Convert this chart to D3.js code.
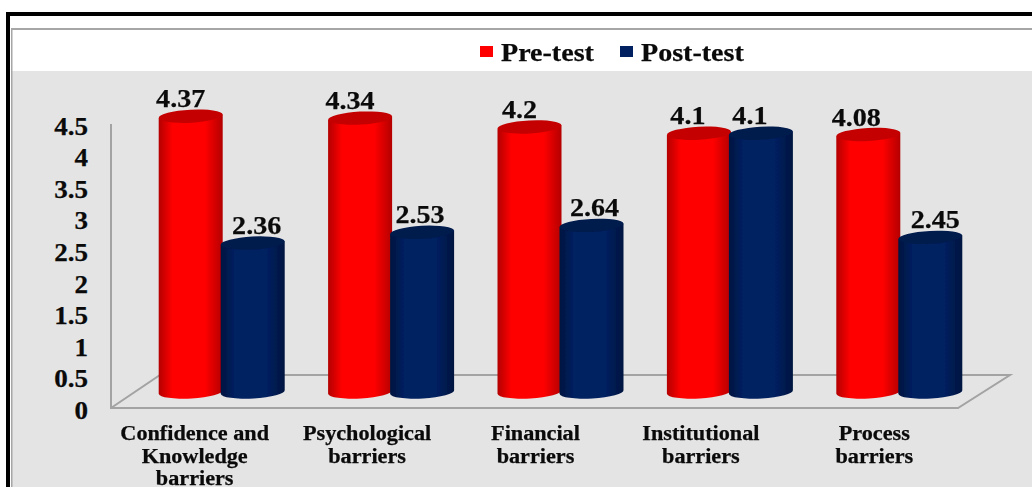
<!DOCTYPE html>
<html>
<head>
<meta charset="utf-8">
<script src="https://cdnjs.cloudflare.com/ajax/libs/d3/7.8.5/d3.min.js"></script>
<style>
    html, body { margin: 0; padding: 0; background: #fff; overflow: hidden; }
    text { font-family: "Liberation Serif", serif; font-weight: bold; fill: #0a0a0a; stroke: #0a0a0a; stroke-width: 0.25px; }
</style>
</head>
<body>
<div id="chart"></div>
<script>
const categories = [
    ['Confidence and', 'Knowledge', 'barriers'],
    ['Psychological', 'barriers'],
    ['Financial', 'barriers'],
    ['Institutional', 'barriers'],
    ['Process', 'barriers']
];
const seriesNames = ['Pre-test', 'Post-test'];
const preTest = [4.37, 4.34, 4.2, 4.1, 4.08];
const postTest = [2.36, 2.53, 2.64, 4.1, 2.45];
const yTicks = [0, 0.5, 1, 1.5, 2, 2.5, 3, 3.5, 4, 4.5];

const width = 1032, height = 487;
const colors = {
    red: {edge: '#b40000', mid: '#ff0000', top: '#c40000'},
    blue: {edge: '#001540', mid: '#002060', top: '#001a4e'}
};

// hand placed, the source chart nudges its labels around
const valueLabelDx = [[-10, 4], [-10, -2], [-10, 3], [-11, -11], [-12, 5]];
const categoryLabelDx = [-27, -24, -25, -29, -25];

// the source image is stretched sideways, so the text is too
function stretch(sel, k) {
    sel.each(function () {
        d3.select(this)
            .attr('textLength', this.getComputedTextLength() * k)
            .attr('lengthAdjust', 'spacingAndGlyphs');
    });
}

const svg = d3.select('#chart').append('svg')
    .attr('width', width)
    .attr('height', height)
    .style('display', 'block');

// frame and backgrounds
svg.append('rect').attr('x', 12).attr('y', 71).attr('width', width - 12).attr('height', height - 71).attr('fill', '#e4e4e4');
svg.append('rect').attr('x', 6).attr('y', 12).attr('width', 4).attr('height', height - 12).attr('fill', '#000');
svg.append('rect').attr('x', 6).attr('y', 12).attr('width', width - 6).attr('height', 4).attr('fill', '#000');
svg.append('rect').attr('x', 11).attr('y', 28).attr('width', width - 11).attr('height', 2).attr('fill', '#a6a6a6');
svg.append('rect').attr('x', 11).attr('y', 28).attr('width', 1.5).attr('height', height - 28).attr('fill', '#a6a6a6');

const defs = svg.append('defs');
Object.keys(colors).forEach(key => {
    const grad = defs.append('linearGradient').attr('id', `cyl-${key}`);
    grad.append('stop').attr('offset', '0%').attr('stop-color', colors[key].edge);
    grad.append('stop').attr('offset', '22%').attr('stop-color', colors[key].mid);
    grad.append('stop').attr('offset', '72%').attr('stop-color', colors[key].mid);
    grad.append('stop').attr('offset', '100%').attr('stop-color', colors[key].edge);
});
defs.append('filter').attr('id', 'soft')
    .append('feGaussianBlur').attr('stdDeviation', 0.5);

const y = d3.scaleLinear().domain([0, 4.5]).range([408, 124]);
const depth = 16; // bars stand this far behind the front edge of the floor

const x0 = d3.scaleBand().domain(d3.range(categories.length)).range([137, 984]);
const barWidth = 64;
const barCenters = {
    red: i => x0(i) + x0.bandwidth() / 2 - 31,
    blue: i => x0(i) + x0.bandwidth() / 2 + 31
};

// floor and back wall edge
const floor = svg.append('g').attr('fill', 'none').attr('stroke', '#a3a3a3').attr('stroke-width', 2);
floor.append('path').attr('d', `M111,${y(4.5)}V${y(0)}H958L1010,375H160L111,${y(0)}`);

const yAxis = d3.axisLeft(y).tickValues(yTicks).tickFormat(d => d).tickSize(0).tickPadding(0);
const axisG = svg.append('g').attr('transform', 'translate(88,2)').call(yAxis);
axisG.select('.domain').remove();
axisG.selectAll('text')
    .style('font-size', '26px')
    .style('font-family', '"Liberation Serif", serif')
    .call(stretch, 1.04);

// cylinder body + darker lid, very slightly tilted like the source
function drawCylinder(g, cx, value, key) {
    const rx = barWidth / 2, ry = 6.5, tilt = 1.8;
    const base = y(0) - depth, top = y(value) - depth;
    g.append('path')
        .attr('d', `M${cx - rx},${top + tilt}L${cx - rx},${base + tilt}` +
            `A${rx},${ry} -3 0 0 ${cx + rx},${base - tilt}L${cx + rx},${top - tilt}Z`)
        .attr('fill', `url(#cyl-${key})`);
    g.append('ellipse')
        .attr('cx', cx).attr('cy', top).attr('rx', rx).attr('ry', ry)
        .attr('transform', `rotate(-3 ${cx} ${top})`)
        .attr('fill', colors[key].top);
}

const bars = svg.append('g').attr('filter', 'url(#soft)');
categories.forEach((c, i) => {
    drawCylinder(bars, barCenters.red(i), preTest[i], 'red');
    drawCylinder(bars, barCenters.blue(i), postTest[i], 'blue');
});

// value labels
categories.forEach((c, i) => {
    [[preTest[i], barCenters.red(i)], [postTest[i], barCenters.blue(i)]].forEach(([v, cx], s) => {
        svg.append('text')
            .attr('x', cx + valueLabelDx[i][s])
            .attr('y', y(v) - depth - 9)
            .attr('text-anchor', 'middle')
            .style('font-size', '26px')
            .text(v)
            .call(stretch, 1.08);
    });
});

// category labels
categories.forEach((lines, i) => {
    lines.forEach((line, j) => {
        svg.append('text')
            .attr('text-anchor', 'middle')
            .attr('x', x0(i) + x0.bandwidth() / 2 + categoryLabelDx[i])
            .attr('y', 440 + j * 22.5)
            .style('font-size', '20px')
            .text(line)
            .call(stretch, 1.11);
    });
});

// legend
const legend = svg.append('g');
const legendX = [480, 620];
seriesNames.forEach((name, i) => {
    legend.append('rect')
        .attr('x', legendX[i]).attr('y', 46)
        .attr('width', 13).attr('height', 11)
        .attr('fill', i === 0 ? colors.red.mid : colors.blue.mid);
    legend.append('text')
        .attr('x', legendX[i] + 21).attr('y', 61)
        .style('font-size', '25.5px')
        .text(name)
        .call(stretch, 1.1);
});
</script>
</body>
</html>
